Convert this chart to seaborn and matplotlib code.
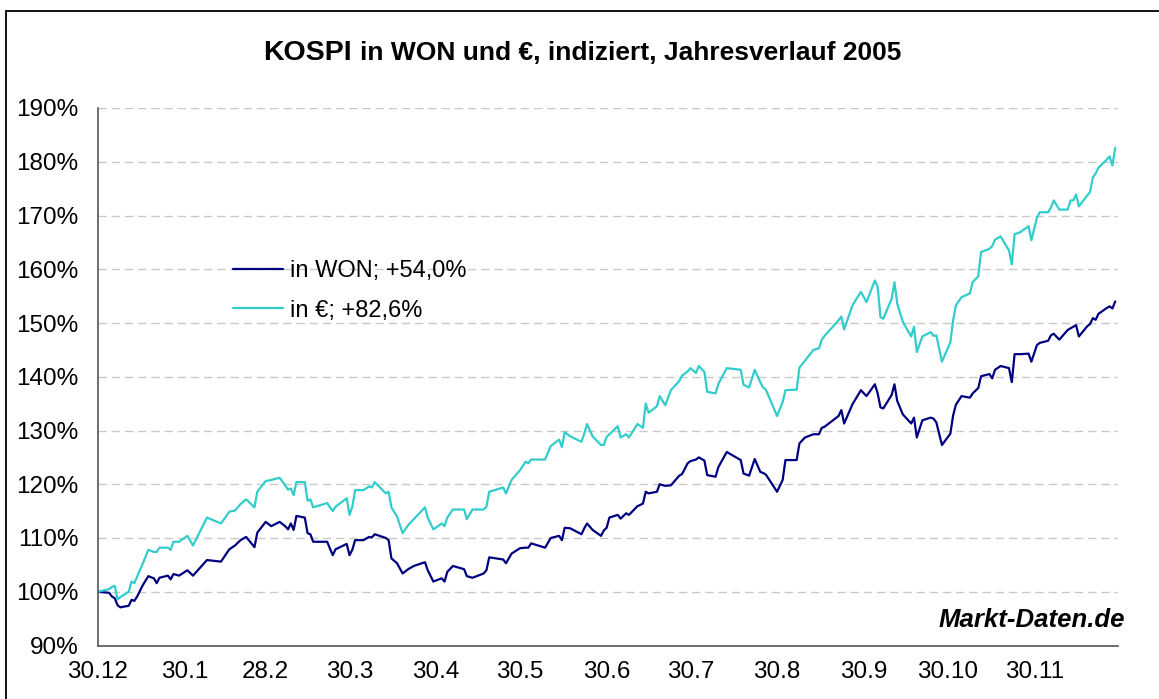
import numpy as np
import pandas as pd
import seaborn as sns
import matplotlib
matplotlib.use('Agg')
import matplotlib.pyplot as plt
from matplotlib.patches import Rectangle

# Tage seit 30.12.2004
tage = [0, 4, 5, 6, 7, 8, 11, 12, 13, 14, 16, 18, 20, 21, 22, 25, 26, 27, 29, 32, 34, 39, 44, 47, 49, 51, 53, 56, 57,
        60, 62, 65, 67, 68, 69, 70, 71, 74, 75, 76, 77, 82, 84, 85, 89, 90, 91, 92, 95, 97, 98, 99, 103, 104, 105,
        107, 109, 111, 113, 117, 118, 120, 123, 124, 125, 127, 131, 132, 134, 138, 139, 140, 145, 146, 148, 151, 153,
        154, 155, 160, 162, 165, 166, 167, 169, 173, 174, 175, 177, 180, 181, 182, 183, 186, 187, 189, 190, 193, 195,
        196, 197, 200, 201, 203, 205, 208, 209, 211, 212, 214, 215, 217, 218, 221, 222, 225, 230, 231, 233, 235, 237,
        238, 239, 243, 245, 246, 250, 251, 253, 256, 258, 259, 260, 265, 266, 267, 270, 273, 275, 278, 279, 280, 281,
        284, 285, 286, 288, 291, 292, 293, 295, 298, 299, 300, 302, 305, 306, 307, 309, 312, 313, 315, 316, 319, 320,
        321, 323, 326, 327, 328, 330, 333, 334, 336, 337, 340, 341, 342, 344, 347, 348, 349, 350, 351, 354, 355, 356,
        357, 358, 361, 362, 363, 364]

kospi_won = [100.0, 99.8, 99.1, 98.8, 97.5, 97.1, 97.4, 98.5, 98.3, 99.1, 101.2, 102.9, 102.5, 101.6, 102.6, 103.0,
             102.3, 103.3, 103.0, 104.0, 103.0, 105.9, 105.6, 107.9, 108.6, 109.6, 110.2, 108.3, 111.0, 113.0, 112.2,
             113.0, 112.2, 111.6, 112.7, 111.5, 114.1, 113.8, 110.9, 110.7, 109.3, 109.3, 106.8, 107.9, 108.9, 106.8,
             107.8, 109.6, 109.6, 110.2, 110.1, 110.7, 110.0, 109.6, 106.2, 105.3, 103.4, 104.2, 104.8, 105.5, 104.0,
             101.9, 102.5, 101.9, 103.7, 104.8, 104.2, 102.9, 102.6, 103.4, 104.0, 106.4, 106.0, 105.3, 107.1, 108.1,
             108.2, 108.2, 109.0, 108.2, 110.0, 110.4, 109.6, 111.9, 111.8, 110.7, 111.8, 112.7, 111.5, 110.4, 111.4,
             111.9, 113.8, 114.3, 113.6, 114.6, 114.3, 115.9, 116.4, 118.6, 118.3, 118.6, 120.0, 119.7, 119.8, 121.6,
             121.9, 123.9, 124.3, 124.6, 125.0, 124.4, 121.7, 121.4, 123.2, 126.0, 124.5, 122.0, 121.6, 124.7, 122.3,
             122.1, 121.8, 118.6, 120.8, 124.5, 124.5, 127.6, 128.7, 129.3, 129.3, 130.5, 130.7, 132.7, 133.8, 131.3,
             134.9, 137.5, 136.4, 138.6, 136.9, 134.3, 134.1, 136.6, 138.6, 135.5, 133.0, 131.3, 132.4, 128.7, 131.9,
             132.4, 132.2, 131.5, 127.3, 129.4, 132.8, 134.8, 136.4, 136.1, 136.9, 137.9, 140.1, 140.5, 139.7, 141.3,
             142.0, 141.6, 139.0, 144.2, 144.2, 144.3, 142.8, 145.9, 146.3, 146.7, 147.7, 148.0, 146.9, 148.7, 149.0,
             149.3, 149.6, 147.5, 149.4, 149.8, 150.9, 150.6, 151.7, 152.8, 153.1, 152.7, 154.0]

kospi_euro = [100.0, 100.5, 100.9, 101.1, 98.6, 99.0, 100.0, 101.9, 101.6, 102.8, 105.2, 107.8, 107.4, 107.4, 108.2,
              108.2, 107.8, 109.3, 109.3, 110.4, 108.6, 113.8, 112.7, 114.9, 115.1, 116.3, 117.2, 115.7, 118.6, 120.6,
              120.8, 121.2, 119.8, 119.0, 119.2, 118.0, 120.4, 120.4, 116.9, 117.2, 115.7, 116.5, 115.0, 115.8, 117.4,
              114.3, 115.8, 118.9, 118.9, 119.6, 119.4, 120.4, 118.3, 118.6, 115.7, 114.0, 110.9, 112.4, 113.5, 115.7,
              113.8, 111.6, 112.7, 112.2, 113.8, 115.3, 115.3, 113.5, 115.3, 115.3, 115.8, 118.6, 119.4, 118.3, 120.8,
              122.6, 124.2, 123.9, 124.6, 124.6, 127.1, 128.3, 126.9, 129.7, 128.9, 127.9, 129.4, 131.2, 128.9, 127.3,
              127.3, 128.8, 129.3, 130.8, 128.7, 129.3, 128.7, 131.2, 130.5, 135.0, 133.3, 134.5, 136.4, 134.7, 137.5,
              139.2, 140.2, 141.0, 141.6, 140.7, 142.0, 140.9, 137.2, 136.9, 138.7, 141.6, 141.3, 138.5, 138.0, 141.3,
              139.0, 138.0, 137.6, 132.7, 135.3, 137.5, 137.6, 141.7, 143.0, 145.0, 145.3, 146.9, 147.6, 150.5, 151.2,
              148.8, 153.3, 155.8, 153.9, 157.9, 156.7, 151.1, 150.8, 154.5, 157.6, 153.6, 150.2, 147.5, 149.3, 144.6,
              147.5, 148.3, 147.6, 147.7, 142.8, 146.4, 150.5, 153.3, 154.8, 155.5, 157.6, 158.7, 163.2, 163.8, 164.3,
              165.5, 166.1, 163.5, 160.9, 166.5, 166.9, 168.0, 165.4, 169.6, 170.6, 170.6, 171.5, 172.8, 171.1, 171.1,
              172.8, 172.8, 173.9, 171.7, 173.7, 174.4, 177.1, 177.8, 178.9, 180.4, 181.0, 179.3, 182.6]

serien = ['in WON; +54,0%', 'in €; +82,6%']
farben = ['#000080', '#33CCCC']
tick_daten = ['2004-12-30', '2005-01-30', '2005-02-28', '2005-03-30', '2005-04-30', '2005-05-30', '2005-06-30',
              '2005-07-30', '2005-08-30', '2005-09-30', '2005-10-30', '2005-11-30', '2005-12-30']
tick_labels = ['30.12', '30.1', '28.2', '30.3', '30.4', '30.5', '30.6', '30.7', '30.8', '30.9', '30.10', '30.11', '']

datum = pd.Timestamp('2004-12-30') + pd.to_timedelta(tage, unit='D')
df = pd.concat([
    pd.DataFrame({'Datum': datum, 'Wert': kospi_won, 'Serie': serien[0]}),
    pd.DataFrame({'Datum': datum, 'Wert': kospi_euro, 'Serie': serien[1]}),
])

sns.set_style('white')
plt.rcParams['font.family'] = ['Liberation Sans', 'DejaVu Sans']
plt.rcParams['text.color'] = 'black'
plt.rcParams['xtick.color'] = 'black'
plt.rcParams['ytick.color'] = 'black'

W, H = 1159, 699
fig = plt.figure(figsize=(W / 100, H / 100), dpi=100)
ax = fig.add_axes([98 / W, 1 - 645.5 / H, (1118 - 98) / W, (645.5 - 108) / H])

sns.lineplot(data=df, x='Datum', y='Wert', hue='Serie', palette=farben, estimator=None,
             linewidth=1.6, ax=ax)

ax.set_ylim(90, 190)
ax.set_yticks(range(90, 191, 10))
ax.set_yticklabels([f'{v}%' for v in range(90, 191, 10)])
ax.set_xlim(pd.Timestamp('2004-12-30'), pd.Timestamp('2005-12-30'))
ax.set_xticks(pd.to_datetime(tick_daten))
ax.set_xticklabels(tick_labels)
ax.set_xlabel('')
ax.set_ylabel('')

for v in range(100, 191, 10):
    ax.axhline(v, color='#C8C8C8', lw=1, dashes=(6, 3.5), zorder=0)

for s in ['top', 'right']:
    ax.spines[s].set_visible(False)
for s in ['left', 'bottom']:
    ax.spines[s].set_color('#555555')
    ax.spines[s].set_linewidth(1.2)
ax.tick_params(axis='both', direction='out', length=6, width=1.2, color='#555555',
               labelcolor='black', labelsize=17.5)
ax.tick_params(axis='y', pad=8)
ax.tick_params(axis='x', pad=5)

leg = ax.legend(loc='upper left', bbox_to_anchor=(233 / W, 1 - 260 / H), bbox_transform=fig.transFigure,
                frameon=False, fontsize=17, handlelength=2.1, handletextpad=0.3, labelspacing=0.75,
                borderaxespad=0, borderpad=0)
for t in leg.get_texts():
    t.set_color('black')

fig.text(263 / W, 1 - 60 / H, 'KOSPI', fontsize=20.5, fontweight='bold', ha='left', va='baseline')
fig.text(360 / W, 1 - 60 / H, 'in WON und €, indiziert, Jahresverlauf 2005', fontsize=19,
         fontweight='bold', ha='left', va='baseline')
fig.text(1125 / W, 1 - 627 / H, 'Markt-Daten.de', fontsize=18.5, fontweight='bold', fontstyle='italic',
         ha='right', va='baseline')

fig.patches.append(Rectangle((6 / W, -0.1), 1.2, 1.1 - 11 / H, transform=fig.transFigure,
                             fill=False, edgecolor='black', lw=1.3))

fig.savefig('out.png', dpi=100)
